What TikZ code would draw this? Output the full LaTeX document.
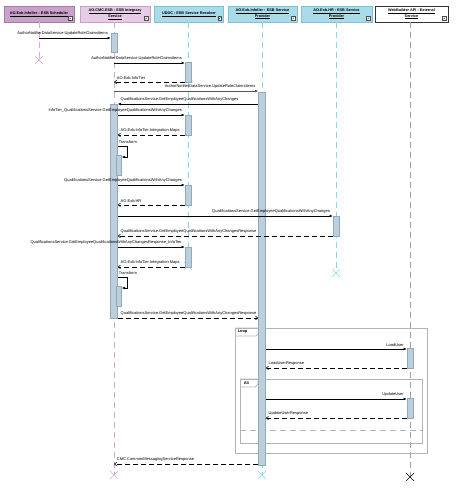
\documentclass[tikz,border=0pt]{standalone}
\usepackage{fontspec}
\setmainfont{Liberation Sans}
\usetikzlibrary{arrows.meta}
\definecolor{hdrA}{HTML}{C8A2C8}
\definecolor{hdrAb}{HTML}{A878A8}
\definecolor{hdrB}{HTML}{E6CCE6}
\definecolor{hdrBb}{HTML}{C8A0C8}
\definecolor{hdrC}{HTML}{A9DCE8}
\definecolor{hdrCb}{HTML}{7FC4D6}
\definecolor{lifeP}{HTML}{D4A8D8}
\definecolor{lifeC}{HTML}{88D8E8}
\definecolor{lifeG}{HTML}{A0A0A0}
\definecolor{actf}{HTML}{BCCFDD}
\definecolor{actb}{HTML}{8FA9BE}
\definecolor{frm}{HTML}{B4B4B4}
\definecolor{msgG}{HTML}{555555}
\tikzset{
  hdr/.style={draw, line width=0.7pt, minimum height=16pt, inner sep=1pt, align=center,
    font=\fontsize{3.8}{4.5}\selectfont\bfseries},
  life/.style={line width=0.8pt, dash pattern=on 6pt off 4pt},
  actbox/.style={draw=actb, fill=actf, line width=0.6pt, minimum width=6pt, inner sep=0pt, anchor=north},
  call/.style={-{Latex[length=3.2pt,width=2.8pt]}, line width=0.6pt},
  ret/.style={-{Straight Barb[length=2.2pt,width=3.4pt]}, line width=0.6pt, dash pattern=on 5pt off 3pt},
  lbl/.style={font=\fontsize{4.0}{4.7}\selectfont, inner sep=0.6pt},
  xmark/.style={line width=0.6pt},
  frame/.style={draw=frm, line width=0.7pt},
  icon/.style={draw=black!70, fill=white, line width=0.3pt, minimum size=3.5pt, inner sep=0pt},
}
\begin{document}
\begin{tikzpicture}[x=1pt,y=-1pt]
\useasboundingbox (0,0) rectangle (456,489);
% headers
\node[hdr, fill=hdrA, draw=hdrAb, minimum width=70pt] (h1) at (39,14) {\underline{AO.Exb.Infoller : ESB Scheduler}};
\node[hdr, fill=hdrB, draw=hdrBb, minimum width=70pt] (h2) at (115,14) {\underline{AO.CMC.ESB : ESB Integrary}\\\underline{Service}};
\node[hdr, fill=hdrC, draw=hdrCb, minimum width=69pt] (h3) at (189,14) {\underline{UDDC : ESB Service Resolver}};
\node[hdr, fill=hdrC, draw=hdrCb, minimum width=69pt] (h4) at (262.5,14) {\underline{AO.Exb.Infoller : ESB Service}\\\underline{Provider}};
\node[hdr, fill=hdrC, draw=hdrCb, minimum width=71pt] (h5) at (336.5,14) {\underline{AO.Exb.HR : ESB Service}\\\underline{Provider}};
\node[hdr, fill=white, draw=black!80, minimum width=73pt] (h6) at (411.5,14) {\underline{WebBuilder API : External}\\\underline{Service}};
\foreach \h in {h1,h2,h3,h4,h5,h6}{
  \node[icon] at ([xshift=-4pt,yshift=4pt]\h.south east) {};
  \draw[line width=0.3pt] ([xshift=-4.8pt,yshift=3.2pt]\h.south east) -- ([xshift=-3.3pt,yshift=4.7pt]\h.south east);
}
% lifeline anchors
\coordinate (L1) at (39,22);
\coordinate (L2) at (114,22);
\coordinate (L3) at (188,22);
\coordinate (L4) at (262,22);
\coordinate (L5) at (336,22);
\coordinate (L6) at (410,22);
\coordinate (e1) at (39,60);
\coordinate (e2) at (114,475);
\coordinate (e3) at (188,266);
\coordinate (e4) at (262,475);
\coordinate (e5) at (336,273);
\coordinate (e6) at (410,477);
\draw[life, draw=lifeP] (L1) -- (e1);
\draw[life, draw=lifeP] (L2) -- (e2);
\draw[life, draw=lifeC] (L3) -- (e3);
\draw[life, draw=lifeC] (L4) -- (e4);
\draw[life, draw=lifeC] (L5) -- (e5);
\draw[life, draw=lifeG] (L6) -- (e6);
% end markers
\foreach \e/\c in {e1/lifeP,e2/lifeP,e3/lifeC,e4/lifeC,e5/lifeC,e6/black}{
  \draw[xmark, draw=\c] ([shift={(-4pt,-4pt)}]\e) -- ([shift={(4pt,4pt)}]\e);
  \draw[xmark, draw=\c] ([shift={(-4pt,4pt)}]\e) -- ([shift={(4pt,-4pt)}]\e);
}
% frames
\draw[frame] (235,328) rectangle (427,453);
\draw[frame] (235,328) -- (259,328) -- (259,333) -- (256,336) -- (235,336);
\node[lbl, font=\fontsize{3.9}{4.5}\selectfont\bfseries, anchor=west] (loopL) at (237,332) {Loop};
\draw[frame] (240,379) rectangle (422,443);
\draw[frame] (240,379) -- (258,379) -- (258,384) -- (255,387) -- (240,387);
\node[lbl, font=\fontsize{3.9}{4.5}\selectfont\bfseries, anchor=west] (altL) at (243,383) {Alt};
\draw[frame, dash pattern=on 6pt off 4pt] (240,430) -- (422,430);
% activations
\node[actbox, minimum height=19pt] (a1) at (114,33) {};
\node[actbox, minimum height=20pt] (a2) at (188,62) {};
\node[actbox, minimum height=373pt, minimum width=7pt] (a3) at (262,92) {};
\node[actbox, minimum height=214pt, minimum width=7pt] (a4) at (114,104) {};
\node[actbox, minimum height=20pt] (a5) at (188,115) {};
\node[actbox, minimum height=20pt, minimum width=5pt] (a6) at (119,155) {};
\node[actbox, minimum height=20pt] (a7) at (188,185) {};
\node[actbox, minimum height=20pt] (a8) at (336,216) {};
\node[actbox, minimum height=20pt] (a9) at (188,247) {};
\node[actbox, minimum height=20pt, minimum width=5pt] (a10) at (119,286) {};
\node[actbox, minimum height=20pt] (a11) at (410,348) {};
\node[actbox, minimum height=20pt] (a12) at (410,398) {};
% messages
\draw[call] (L1 |- 0,38) -- (a1.west |- 0,38)
  node[lbl, anchor=south east, pos=1, xshift=-2pt, yshift=2pt] {AuthorNotifierDataService.UpdateRoleClaimsItems};
\draw[call] (L2 |- 0,63) -- (a2.west |- 0,63)
  node[lbl, anchor=south east, pos=1, xshift=-2pt, yshift=2pt] {AuthorNotifierDataService.UpdateRoleClaimsItems};
\draw[ret] (a2.west |- 0,82) -- (L2 |- 0,82)
  node[lbl, anchor=south west, pos=1, xshift=2pt, yshift=2pt] {AO.Exb.InfoTier};
\draw[call, draw=msgG] (L2 |- 0,91) -- (a3.west |- 0,91)
  node[lbl, anchor=south east, pos=1, xshift=-2pt, yshift=2pt] {AuthorNotifierDataService.UpdateRoleClaimsItems};
\draw[call] (a3.west |- 0,104) -- (a4.east |- 0,104)
  node[lbl, anchor=south west, pos=1, xshift=2pt, yshift=2pt] {QualificationsService.GetEmployeeQualificationsWithAnyChanges};
\draw[call] (a4.east |- 0,115) -- (a5.west |- 0,115)
  node[lbl, anchor=south east, pos=1, xshift=-2pt, yshift=2pt] {InfoTier\_QualificationsService.GetEmployeeQualificationsWithAnyChanges};
\draw[ret] (a5.west |- 0,135) -- (a4.east |- 0,135)
  node[lbl, anchor=south west, pos=1, xshift=2pt, yshift=2pt] {AO.Exb.InfoTier.Integration.Maps};
\draw[call] (a4.east |- 0,146) -- (127,146) -- (127,157) -- (a6.east |- 0,157);
\node[lbl, anchor=south west] (t1) at (118,144) {Transform};
\draw[call] (a4.east |- 0,185) -- (a7.west |- 0,185)
  node[lbl, anchor=south east, pos=1, xshift=-2pt, yshift=2pt] {QualificationsService.GetEmployeeQualificationsWithAnyChanges};
\draw[ret] (a7.west |- 0,205) -- (a4.east |- 0,205)
  node[lbl, anchor=south west, pos=1, xshift=2pt, yshift=2pt] {AO.Exb.HR};
\draw[call] (a4.east |- 0,216) -- (a8.west |- 0,216)
  node[lbl, anchor=south east, pos=1, xshift=-2pt, yshift=2pt] {QualificationsService.GetEmployeeQualificationsWithAnyChanges};
\draw[ret] (a8.west |- 0,236) -- (a4.east |- 0,236)
  node[lbl, anchor=south west, pos=1, xshift=2pt, yshift=2pt] {QualificationsService.GetEmployeeQualificationsWithAnyChangesResponse};
\draw[call] (a4.east |- 0,247) -- (a9.west |- 0,247)
  node[lbl, anchor=south east, pos=1, xshift=-2pt, yshift=2pt] {QualificationsService.GetEmployeeQualificationsWithAnyChangesResponse\_InfoTier};
\draw[ret] (a9.west |- 0,267) -- (a4.east |- 0,267)
  node[lbl, anchor=south west, pos=1, xshift=2pt, yshift=2pt] {AO.Exb.InfoTier.Integration.Maps};
\draw[call] (a4.east |- 0,277) -- (127,277) -- (127,288) -- (a10.east |- 0,288);
\node[lbl, anchor=south west] (t2) at (118,275) {Transform};
\draw[ret] (a4.east |- 0,318) -- (a3.west |- 0,318)
  node[lbl, anchor=south west, pos=0, xshift=2pt, yshift=2pt] {QualificationsService.GetEmployeeQualificationsWithAnyChangesResponse};
\draw[call] (a3.east |- 0,349) -- (a11.west |- 0,349)
  node[lbl, anchor=south east, pos=1, xshift=-2pt, yshift=2pt] {LoadUser};
\draw[ret] (a11.west |- 0,368) -- (a3.east |- 0,368)
  node[lbl, anchor=south west, pos=1, xshift=2pt, yshift=2pt] {LoadUserResponse};
\draw[call] (a3.east |- 0,399) -- (a12.west |- 0,399)
  node[lbl, anchor=south east, pos=1, xshift=-2pt, yshift=2pt] {UpdateUser};
\draw[ret] (a12.west |- 0,418) -- (a3.east |- 0,418)
  node[lbl, anchor=south west, pos=1, xshift=2pt, yshift=2pt] {UpdateUserResponse};
\draw[ret] (a3.west |- 0,464) -- (L2 |- 0,464)
  node[lbl, anchor=south west, pos=1, xshift=2pt, yshift=2pt] {CMC.CommonMessagingServiceResponse};
\end{tikzpicture}
\end{document}
